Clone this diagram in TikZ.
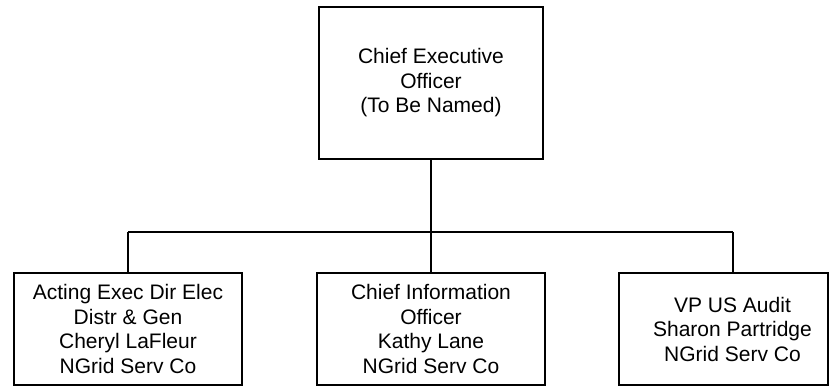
\documentclass[tikz,border=0pt]{standalone}
\usepackage{fontspec}
\setmainfont{Liberation Sans}
\begin{document}
\begin{tikzpicture}[x=1pt,y=-1pt,
  box/.style={draw=black, line width=1.6pt, align=center,
    font=\fontsize{21}{24.5}\selectfont, inner sep=0pt,
    minimum height=112pt, minimum width=228pt},
  conn/.style={draw=black, line width=1.6pt}]
\useasboundingbox (0,0) rectangle (830,386);
\node[box, minimum width=224pt, minimum height=152pt] (ceo) at (431,83)
  {Chief Executive\\Officer\\(To Be Named)};
\node[box] (a) at (128,329)
  {Acting Exec Dir Elec\\Distr \& Gen\\Cheryl LaFleur\\NGrid Serv Co};
\node[box] (b) at (431,329)
  {Chief Information\\Officer\\Kathy Lane\\NGrid Serv Co};
\node[box, minimum width=209pt] (c) at (723.5,329)
  {\hspace*{18pt}VP US Audit\\\hspace*{18pt}Sharon Partridge\\\hspace*{18pt}NGrid Serv Co};
\coordinate (hl) at (128,232);
\coordinate (hr) at (733,232);
\draw[conn] (hl) -- (hr);
\draw[conn] (ceo.south) -- (ceo.south |- hl);
\draw[conn] (hl) -- (a.north);
\draw[conn] (b.north |- hl) -- (b.north);
\draw[conn] (hr) -- (hr |- c.north);
\end{tikzpicture}
\end{document}
